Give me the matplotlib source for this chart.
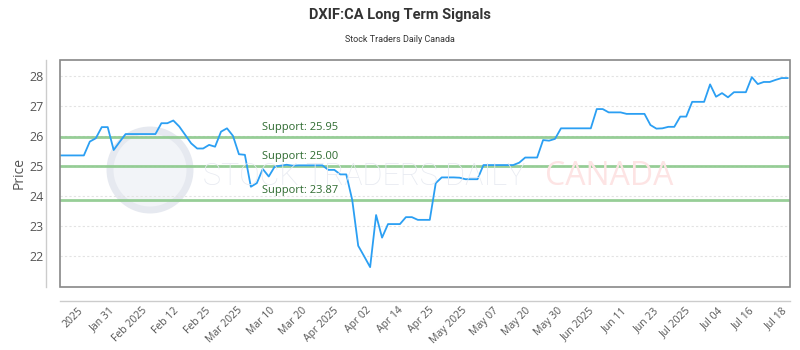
import numpy as np
import matplotlib
matplotlib.use("Agg")
import matplotlib.pyplot as plt
from matplotlib.patches import Ellipse

# === DATA ===
prices = [
    25.35, 25.35, 25.35, 25.35, 25.35, 25.81, 25.92, 26.29, 26.29, 25.53,
    25.80, 26.06, 26.06, 26.06, 26.06, 26.06, 26.06, 26.42, 26.42, 26.51,
    26.31, 26.03, 25.75, 25.58, 25.58, 25.70, 25.64, 26.14, 26.25, 26.00,
    25.39, 25.37, 24.31, 24.43, 24.90, 24.65, 24.98, 25.01, 25.04, 25.01,
    25.02, 25.02, 25.02, 25.02, 25.02, 24.87, 24.87, 24.72, 24.72, 23.87,
    22.35, 22.00, 21.64, 23.37, 22.62, 23.07, 23.07, 23.07, 23.30, 23.30,
    23.21, 23.21, 23.21, 24.43, 24.62, 24.62, 24.62, 24.61, 24.56, 24.56,
    24.56, 25.03, 25.03, 25.03, 25.03, 25.03, 25.03, 25.11, 25.28, 25.28,
    25.28, 25.86, 25.84, 25.90, 26.25, 26.25, 26.25, 26.25, 26.25, 26.25,
    26.89, 26.89, 26.78, 26.78, 26.78, 26.73, 26.73, 26.73, 26.73, 26.36,
    26.24, 26.25, 26.30, 26.30, 26.64, 26.64, 27.13, 27.13, 27.13, 27.71,
    27.30, 27.42, 27.28, 27.45, 27.45, 27.45, 27.95, 27.72, 27.79, 27.79,
    27.86, 27.92, 27.92,
]
supports = [25.95, 25.00, 23.87]
tick_labels = [
    "2025", "Jan 31", "Feb 2025", "Feb 12", "Feb 25", "Mar 2025", "Mar 10",
    "Mar 20", "Apr 2025", "Apr 02", "Apr 14", "Apr 25", "May 2025", "May 07",
    "May 20", "May 30", "Jun 2025", "Jun 11", "Jun 23", "Jul 2025", "Jul 04",
    "Jul 16", "Jul 18",
]
y_ticks = [22, 23, 24, 25, 26, 27, 28]

TEXT = "#555555"
SANS = ["Open Sans", "DejaVu Sans"]
NARROW = ["Roboto", "DejaVu Sans"]

# === FIGURE ===
fig = plt.figure(figsize=(8, 3.5), dpi=100)
ax = fig.add_axes([0.075, 0.18, 0.9125, 0.6486])

# spines first (set_position resets the ticks)
for side in ["left", "bottom"]:
    ax.spines[side].set_position(("outward", 10))
    ax.spines[side].set_color("#cccccc")
    ax.spines[side].set_linewidth(1)
for side in ["top", "right"]:
    ax.spines[side].set_visible(False)
ax.add_patch(plt.Rectangle((0, 0), 1, 1, transform=ax.transAxes, fill=False,
                           edgecolor="#888888", lw=1.2, clip_on=False, zorder=5))

x = np.arange(len(prices))

# watermark
fig.add_artist(Ellipse((150 / 800, 1 - 170 / 350), 80 / 800, 80 / 350,
                       facecolor="#f2f4f8", edgecolor="#e6e9f0", lw=5,
                       transform=fig.transFigure, zorder=0))
fig.text(203 / 800, 1 - 177 / 350, "STOCK TRADERS DAILY", family=NARROW,
         fontweight="light", fontsize=22, color="#e7eaf1",
         va="center", ha="left", zorder=0)
fig.text(545 / 800, 1 - 177 / 350, "CANADA", family=SANS,
         fontsize=23, color="#fde4e4", va="center", ha="left", zorder=0)
ax.set_facecolor("none")

# grid
for yv in y_ticks:
    ax.axhline(yv, color="#e3e3e3", lw=0.8, ls=(0, (2, 2)), zorder=1)

# support lines
for s in supports:
    ax.axhline(s, color="#8cc98c", lw=2, alpha=0.9, zorder=2)
    ax.annotate(f"Support: {s:.2f}", xy=(0.277, s), xycoords=("axes fraction", "data"),
                xytext=(0, 3), textcoords="offset points", ha="left", va="bottom",
                fontsize=8, color="#2e6b30", family=SANS, zorder=3)

# price line
ax.plot(x, prices, color="#2b9ff3", lw=1.3, zorder=4)

ax.set_xlim(0, len(prices) - 1 + 0.4)
ax.set_ylim(20.98, 28.52)
ax.set_yticks(y_ticks)
ax.set_xticks(np.linspace(2.9, 120.9, len(tick_labels)))
ax.set_xticklabels(tick_labels)
ax.tick_params(axis="both", length=0, labelcolor=TEXT)
ax.tick_params(axis="y", pad=2, labelsize=9)
ax.tick_params(axis="x", pad=3, labelsize=7.5, labelrotation=45)
for lab in ax.get_xticklabels():
    lab.set_ha("right")
    lab.set_rotation_mode("anchor")
    lab.set_family(SANS)
for lab in ax.get_yticklabels():
    lab.set_family(SANS)
ax.set_ylabel("Price", fontsize=10, color=TEXT, family=SANS, labelpad=2)

# titles
fig.text(0.5, 1 - 15 / 350, "DXIF:CA Long Term Signals", ha="center", va="center",
         fontsize=10.5, fontweight="bold", color="#333333", family=NARROW)
fig.text(0.5, 1 - 40 / 350, "Stock Traders Daily Canada", ha="center", va="center",
         fontsize=6.5, color="#333333", family=NARROW)

fig.savefig("out.png", dpi=100)
